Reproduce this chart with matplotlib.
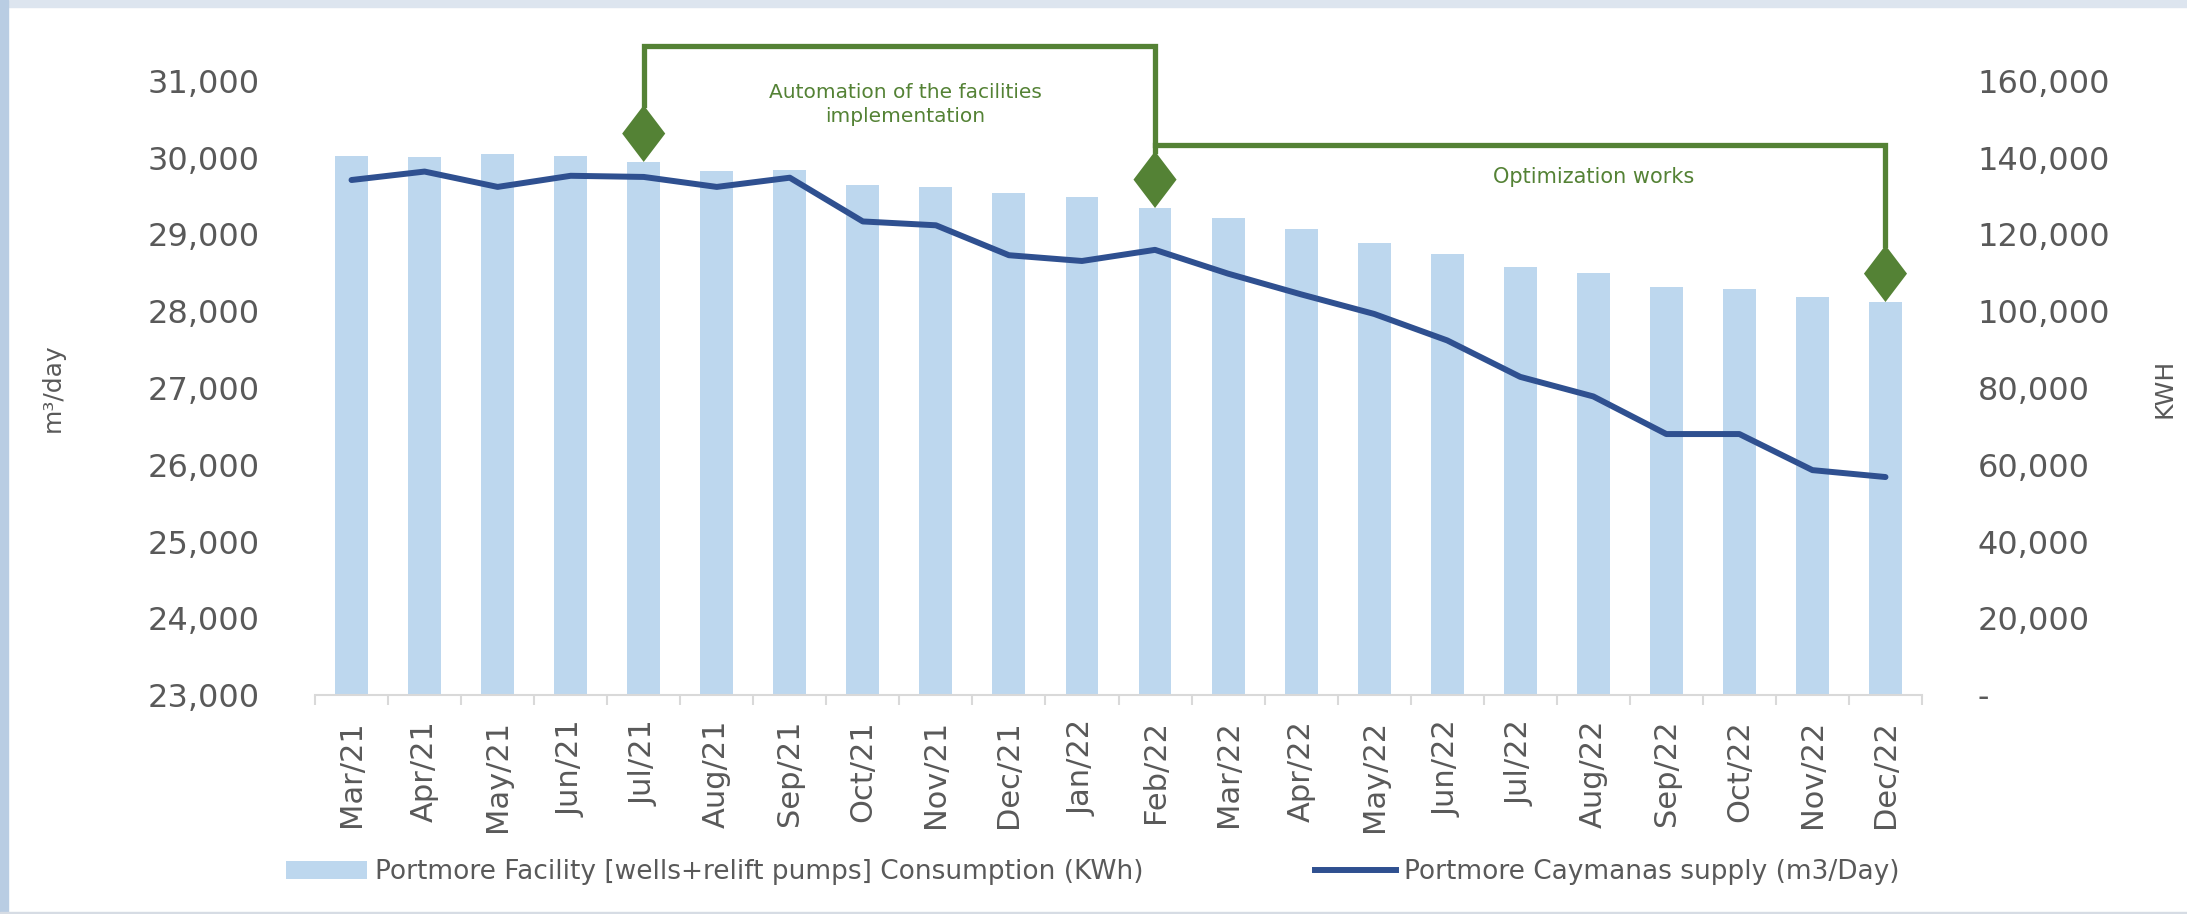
import matplotlib.pyplot as plt
from matplotlib.patches import Polygon, Rectangle, Patch
from matplotlib.lines import Line2D
from matplotlib.ticker import FixedLocator, FuncFormatter

# =========================
# DATA
# =========================

months = [
    "Mar/21", "Apr/21", "May/21", "Jun/21", "Jul/21", "Aug/21", "Sep/21",
    "Oct/21", "Nov/21", "Dec/21", "Jan/22", "Feb/22", "Mar/22", "Apr/22",
    "May/22", "Jun/22", "Jul/22", "Aug/22", "Sep/22", "Oct/22", "Nov/22",
    "Dec/22",
]

# facility consumption, KWh
consumption_kwh = [
    140500, 140200, 140900, 140500, 138900, 136500, 136800,
    133000, 132300, 130900, 129800, 126900, 124400, 121400,
    117900, 114800, 111600, 110000, 106300, 105700, 103700,
    102400,
]

# Caymanas supply, m3/day
supply_m3 = [
    29710, 29820, 29620, 29765, 29750, 29620, 29740,
    29170, 29120, 28730, 28655, 28800, 28490, 28220,
    27965, 27620, 27145, 26890, 26400, 26400, 25930,
    25840,
]

left_ticks = [23000, 24000, 25000, 26000, 27000, 28000, 29000, 30000, 31000]
right_ticks = [0, 20000, 40000, 60000, 80000, 100000, 120000, 140000, 160000]

# project milestones (month index) and bracket levels in KWh
milestone_idx = [4, 11, 21]
bracket_top = 169000
bracket_mid = 143300

bar_label = "Portmore Facility [wells+relift pumps] Consumption (KWh)"
line_label = "Portmore Caymanas supply (m3/Day)"

# =========================
# STYLE
# =========================

BAR_COLOR = "#BDD7EE"
LINE_COLOR = "#2F5090"
GREEN = "#548235"
TEXT_GREY = "#595959"
AXIS_GREY = "#D9D9D9"

W, H = 2187, 914
fig = plt.figure(figsize=(W / 100, H / 100), dpi=100)
fig.patch.set_facecolor("white")

# light frame around the chart area
fig.patches.append(Rectangle((0, 1 - 7 / H), 1, 7 / H, transform=fig.transFigure,
                             color="#DDE5EF", zorder=0))
fig.patches.append(Rectangle((0, 0), 8 / W, 1, transform=fig.transFigure,
                             color="#B9CDE3", zorder=0))
fig.patches.append(Rectangle((0, 0), 1, 2 / H, transform=fig.transFigure,
                             color="#D6DCE4", zorder=0))

ax = fig.add_axes([315 / W, 1 - 695 / H, (1922 - 315) / W, (695 - 81) / H])
ax2 = ax.twinx()

x = list(range(len(months)))

# =========================
# BARS (right axis) + LINE (left axis)
# =========================

ax2.bar(x, consumption_kwh, width=0.45, color=BAR_COLOR, zorder=2)
ax.plot(x, supply_m3, color=LINE_COLOR, linewidth=4.3,
        solid_joinstyle="round", solid_capstyle="round", zorder=3)

# line on top of bars
ax.set_zorder(ax2.get_zorder() + 1)
ax.patch.set_visible(False)

ax.set_xlim(-0.5, len(months) - 0.5)
ax.set_ylim(23000, 31000)
ax2.set_ylim(0, 160000)

# =========================
# AXES FORMATTING
# =========================

for a in (ax, ax2):
    for side in ("top", "left", "right"):
        a.spines[side].set_visible(False)
ax.spines["bottom"].set_color(AXIS_GREY)
ax.spines["bottom"].set_linewidth(1.5)
ax2.spines["bottom"].set_visible(False)

ax.set_yticks(left_ticks)
ax.yaxis.set_major_formatter(FuncFormatter(lambda v, p: f"{int(v):,}"))
ax.tick_params(axis="y", length=0, pad=40, labelsize=23, labelcolor=TEXT_GREY)

ax2.set_yticks(right_ticks)
ax2.yaxis.set_major_formatter(
    FuncFormatter(lambda v, p: "-" if v == 0 else f"{int(v):,}"))
ax2.tick_params(axis="y", length=0, pad=40, labelsize=23, labelcolor=TEXT_GREY)

ax.set_xticks(x)
ax.set_xticklabels(months, rotation=90, va="top")
ax.xaxis.set_minor_locator(FixedLocator([i - 0.5 for i in range(len(months) + 1)]))
ax.tick_params(axis="x", which="major", length=0, pad=18, labelsize=22,
               labelcolor=TEXT_GREY)
ax.tick_params(axis="x", which="minor", length=7, width=1.5, color=AXIS_GREY)

ax.set_ylabel("m³/day", fontsize=18, color=TEXT_GREY)
ax.yaxis.set_label_coords((65 - 315) / (1922 - 315), 0.5)
ax2.set_ylabel("KWH", fontsize=18, color=TEXT_GREY, rotation=90)
ax2.yaxis.set_label_coords((2153 - 315) / (1922 - 315), 0.5)

# =========================
# MILESTONE BRACKETS
# =========================

diamond_h = 14800
diamond_w = 0.295
diamond_top = []
for i in milestone_idx:
    base = consumption_kwh[i]
    poly = Polygon([(i, base), (i + diamond_w, base + diamond_h / 2),
                    (i, base + diamond_h), (i - diamond_w, base + diamond_h / 2)],
                   closed=True, facecolor=GREEN, edgecolor="none",
                   zorder=5, clip_on=False)
    ax2.add_patch(poly)
    diamond_top.append(base + diamond_h)

a, b, c = milestone_idx
ax2.plot([a, a, b, b], [diamond_top[0], bracket_top, bracket_top, diamond_top[1]],
         color=GREEN, linewidth=3.8, clip_on=False, zorder=4,
         solid_joinstyle="miter")
ax2.plot([b, c, c], [bracket_mid, bracket_mid, diamond_top[2]],
         color=GREEN, linewidth=3.8, clip_on=False, zorder=4,
         solid_joinstyle="miter")

ax2.text(7.58, 153800, "Automation of the facilities\nimplementation",
         ha="center", va="center", fontsize=14.5, color=GREEN, linespacing=1.35)
ax2.text(17.0, 134900, "Optimization works",
         ha="center", va="center", fontsize=15, color=GREEN)

# =========================
# LEGEND
# =========================

handles = [
    Patch(facecolor=BAR_COLOR, edgecolor="none"),
    Line2D([0], [0], color=LINE_COLOR, linewidth=4.3),
]
fig.legend(handles, [bar_label, line_label], loc="center left",
           bbox_to_anchor=(273 / W, 1 - 872 / H), ncol=2, frameon=False,
           borderpad=0, fontsize=19, labelcolor=TEXT_GREY, handlelength=3.07,
           handletextpad=0.3, columnspacing=6.5)

plt.savefig("out.png", dpi=100)
plt.close()
